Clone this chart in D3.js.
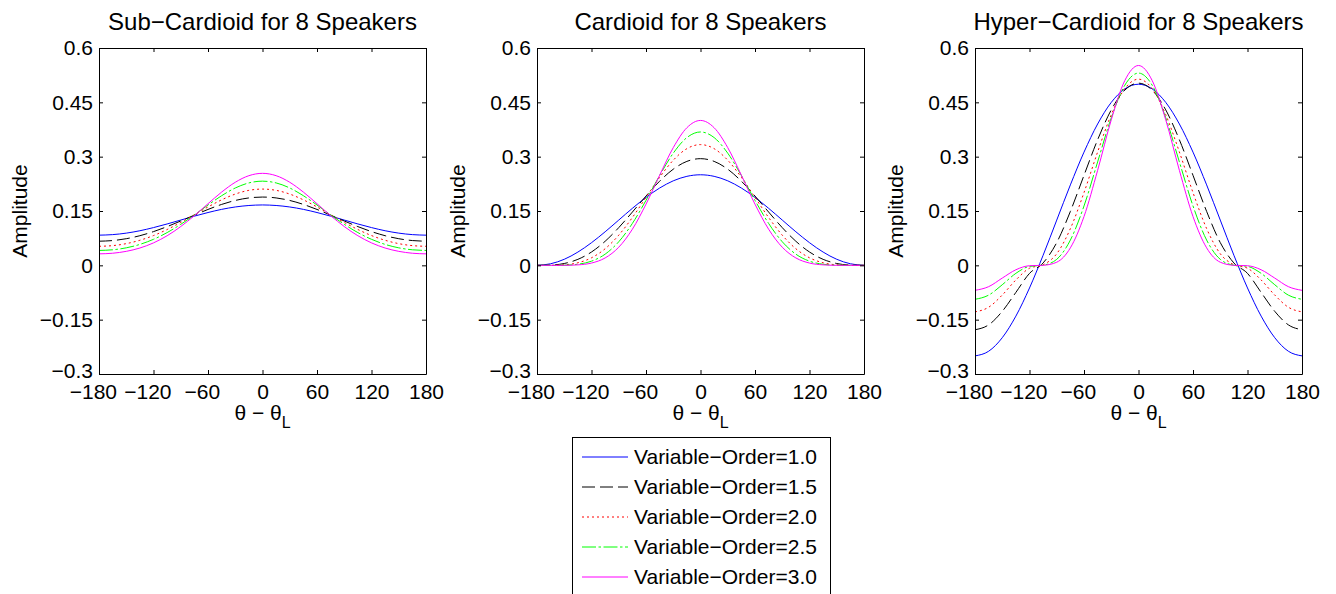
<!DOCTYPE html>
<html><head><meta charset="utf-8">
<script src="https://cdn.jsdelivr.net/npm/d3@7"></script>
<style>
html,body{margin:0;padding:0;background:#fff;}
svg{display:block;font-family:"Liberation Sans",Arial,Helvetica,sans-serif;}
</style></head><body>
<svg id="chart" width="1336" height="594"></svg>
<script>
// ---- data ----
const thetaDeg = [-180,-165,-150,-135,-120,-105,-90,-75,-60,-45,-30,-15,0,15,30,45,60,75,90,105,120,135,150,165,180];
const xTickValues = [-180,-120,-60,0,60,120,180];
const xTickLabels = ["\u2212180","\u2212120","\u221260","0","60","120","180"];
const yTickValues = [-0.3,-0.15,0,0.15,0.3,0.45,0.6];
const yTickLabels = ["\u22120.3","\u22120.15","0","0.15","0.3","0.45","0.6"];
const panelTitles = ["Sub\u2212Cardioid for 8 Speakers","Cardioid for 8 Speakers","Hyper\u2212Cardioid for 8 Speakers"];
const seriesNames = ["Variable\u2212Order=1.0","Variable\u2212Order=1.5","Variable\u2212Order=2.0","Variable\u2212Order=2.5","Variable\u2212Order=3.0"];

// Sub-Cardioid
const sub10 = [0.0833,0.0848,0.0889,0.0955,0.1042,0.1142,0.125,0.1358,0.1458,0.1545,0.1611,0.1652,0.1667,0.1652,0.1611,0.1545,0.1458,0.1358,0.125,0.1142,0.1042,0.0955,0.0889,0.0848,0.0833];
const sub15 = [0.0666,0.0684,0.0735,0.0818,0.0931,0.1069,0.1224,0.1386,0.1543,0.1682,0.1791,0.1861,0.1885,0.1861,0.1791,0.1682,0.1543,0.1386,0.1224,0.1069,0.0931,0.0818,0.0735,0.0684,0.0666];
const sub20 = [0.0526,0.0544,0.0599,0.0692,0.0822,0.0989,0.1184,0.1397,0.1612,0.1808,0.1967,0.2070,0.2105,0.2070,0.1967,0.1808,0.1612,0.1397,0.1184,0.0989,0.0822,0.0692,0.0599,0.0544,0.0526];
const sub25 = [0.0411,0.0429,0.0483,0.0578,0.0718,0.0904,0.1132,0.1392,0.1665,0.1922,0.2135,0.2275,0.2324,0.2275,0.2135,0.1922,0.1665,0.1392,0.1132,0.0904,0.0718,0.0578,0.0483,0.0429,0.0411];
const sub30 = [0.0317,0.0334,0.0386,0.0478,0.0620,0.0817,0.1071,0.1373,0.1701,0.2022,0.2293,0.2475,0.2540,0.2475,0.2293,0.2022,0.1701,0.1373,0.1071,0.0817,0.0620,0.0478,0.0386,0.0334,0.0317];
// Cardioid
const card10 = [0,0.0043,0.0167,0.0366,0.0625,0.0926,0.125,0.1574,0.1875,0.2134,0.2333,0.2457,0.25,0.2457,0.2333,0.2134,0.1875,0.1574,0.125,0.0926,0.0625,0.0366,0.0167,0.0043,0];
const card15 = [0,0.0007,0.0051,0.0165,0.0368,0.0664,0.1041,0.1471,0.1913,0.2323,0.2654,0.2870,0.2945,0.2870,0.2654,0.2323,0.1913,0.1471,0.1041,0.0664,0.0368,0.0165,0.0051,0.0007,0];
const card20 = [0,0.0001,0.0015,0.0071,0.0208,0.0458,0.0833,0.1321,0.1875,0.2429,0.2902,0.3221,0.3333,0.3221,0.2902,0.2429,0.1875,0.1321,0.0833,0.0458,0.0208,0.0071,0.0015,0.0001,0];
const card25 = [0,0,0.0004,0.0030,0.0115,0.0308,0.0651,0.1157,0.1793,0.2478,0.3096,0.3527,0.3682,0.3527,0.3096,0.2478,0.1793,0.1157,0.0651,0.0308,0.0115,0.0030,0.0004,0,0];
const card30 = [0,0,0.0001,0.0013,0.0063,0.0204,0.05,0.0997,0.1688,0.2487,0.3249,0.3799,0.4,0.3799,0.3249,0.2487,0.1688,0.0997,0.05,0.0204,0.0063,0.0013,0.0001,0,0];
// Hyper-Cardioid
const hyp10 = [-0.25,-0.2372,-0.1998,-0.1402,-0.0625,0.0279,0.125,0.2221,0.3125,0.3902,0.4498,0.4872,0.5,0.4872,0.4498,0.3902,0.3125,0.2221,0.125,0.0279,-0.0625,-0.1402,-0.1998,-0.2372,-0.25];
const hyp15 = [-0.1778,-0.1644,-0.1270,-0.0747,-0.0222,0.0066,0.0629,0.1489,0.2485,0.3467,0.4291,0.4838,0.503,0.4838,0.4291,0.3467,0.2485,0.1489,0.0629,0.0066,-0.0222,-0.0747,-0.1270,-0.1644,-0.1778];
const hyp20 = [-0.1285,-0.1157,-0.0820,-0.0404,-0.0080,0.0016,0.0321,0.1014,0.2008,0.3130,0.4159,0.4881,0.5140,0.4881,0.4159,0.3130,0.2008,0.1014,0.0321,0.0016,-0.0080,-0.0404,-0.0820,-0.1157,-0.1285];
const hyp25 = [-0.0938,-0.0823,-0.0536,-0.0221,-0.0029,0.0004,0.0166,0.0698,0.1639,0.2855,0.4073,0.4975,0.5308,0.4975,0.4073,0.2855,0.1639,0.0698,0.0166,0.0004,-0.0029,-0.0221,-0.0536,-0.0823,-0.0938];
const hyp30 = [-0.0690,-0.0589,-0.0352,-0.0122,-0.0011,0.0001,0.0086,0.0483,0.1347,0.2622,0.4016,0.5105,0.5517,0.5105,0.4016,0.2622,0.1347,0.0483,0.0086,0.0001,-0.0011,-0.0122,-0.0352,-0.0589,-0.0690];

const panelSeries = [[sub10,sub15,sub20,sub25,sub30],[card10,card15,card20,card25,card30],[hyp10,hyp15,hyp20,hyp25,hyp30]];
const seriesColors = ["#0000ff","#000000","#ff0000","#00ff00","#ff00ff"];
const seriesDash = [null,"13,5","2,3","14,2.5,2.5,2.5",null];

// ---- layout ----
const FONT = "'Liberation Sans',Arial,Helvetica,sans-serif";
const svg = d3.select("#chart");
const panelLefts = [99, 537, 975];
const plotW = 327, plotTop = 48, plotBottom = 374;
const tickFont = 21;

function styleAxis(sel){
  sel.attr("font-size", tickFont).attr("font-family", FONT);
  sel.selectAll("path,line").attr("stroke","#000").attr("stroke-width",1);
  sel.selectAll("text").attr("fill","#000");
}

panelLefts.forEach((left, pi) => {
  const x = d3.scaleLinear().domain([-180,180]).range([left, left + plotW]);
  const y = d3.scaleLinear().domain([-0.3,0.6]).range([plotBottom, plotTop]);
  const g = svg.append("g");

  g.append("rect").attr("x", left).attr("y", plotTop).attr("width", plotW).attr("height", plotBottom - plotTop).attr("fill", "#fff");

  const line = d3.line().x((d,i) => x(thetaDeg[i])).y(d => y(d)).curve(d3.curveMonotoneX);
  panelSeries[pi].forEach((s, si) => {
    const p = g.append("path").attr("d", line(s)).attr("fill","none")
      .attr("stroke", seriesColors[si]).attr("stroke-width", 1);
    if (seriesDash[si]) p.attr("stroke-dasharray", seriesDash[si]);
  });

  const bottom = g.append("g").attr("transform", `translate(0,${plotBottom})`)
    .call(d3.axisBottom(x).tickValues(xTickValues).tickFormat((d,i) => xTickLabels[i]).tickSizeInner(-4).tickSizeOuter(0).tickPadding(10));
  styleAxis(bottom);
  bottom.selectAll("text").each(function(){
    const t = this.textContent;
    if (t.startsWith("\u2212")) {
      const L = this.getComputedTextLength();
      const dl = this.getSubStringLength(1, t.length - 1);
      d3.select(this).attr("dx", -(L - dl) / 2);
    }
  });
  const top = g.append("g").attr("transform", `translate(0,${plotTop})`)
    .call(d3.axisTop(x).tickValues(xTickValues).tickFormat("").tickSizeInner(-4).tickSizeOuter(0));
  styleAxis(top);
  const leftAx = g.append("g").attr("transform", `translate(${left},0)`)
    .call(d3.axisLeft(y).tickValues(yTickValues).tickFormat((d,i) => yTickLabels[i]).tickSizeInner(-4).tickSizeOuter(0).tickPadding(6));
  styleAxis(leftAx);
  // nudge the lowest y label up a little so it clears the x tick labels
  leftAx.selectAll(".tick text").filter((d) => d === -0.3).attr("y", -3);
  const rightAx = g.append("g").attr("transform", `translate(${left + plotW},0)`)
    .call(d3.axisRight(y).tickValues(yTickValues).tickFormat("").tickSizeInner(-4).tickSizeOuter(0));
  styleAxis(rightAx);

  // title
  g.append("text").attr("x", left + plotW/2).attr("y", 30).attr("text-anchor","middle")
    .attr("font-size", 24).attr("font-family", FONT).attr("fill","#000").text(panelTitles[pi]);
  // y label
  g.append("text").attr("transform", `translate(${left - 72},${(plotTop + plotBottom)/2}) rotate(-90)`)
    .attr("text-anchor","middle").attr("font-size", tickFont).attr("font-family", FONT).attr("fill","#000").text("Amplitude");
  // x label
  const xl = g.append("text").attr("x", left + plotW/2).attr("y", 420).attr("text-anchor","middle")
    .attr("font-size", tickFont).attr("font-family", FONT).attr("fill","#000");
  xl.append("tspan").text("\u03B8 \u2212 \u03B8");
  xl.append("tspan").attr("font-size", 16).attr("dy", 8).text("L");
});

// ---- legend ----
const lg = svg.append("g");
lg.append("rect").attr("x", 572.5).attr("y", 437.5).attr("width", 258).attr("height", 175)
  .attr("fill","#fff").attr("stroke","#000").attr("stroke-width",1);
seriesNames.forEach((name, i) => {
  const cy = 457 + 30 * i;
  const l = lg.append("line").attr("x1", 582).attr("x2", 628).attr("y1", cy).attr("y2", cy)
    .attr("stroke", seriesColors[i]).attr("stroke-width", 1);
  if (seriesDash[i]) l.attr("stroke-dasharray", seriesDash[i]);
  lg.append("text").attr("x", 634).attr("y", cy).attr("dy","0.35em")
    .attr("font-size", tickFont).attr("font-family", FONT).attr("fill","#000").text(name);
});
</script>
</body></html>
